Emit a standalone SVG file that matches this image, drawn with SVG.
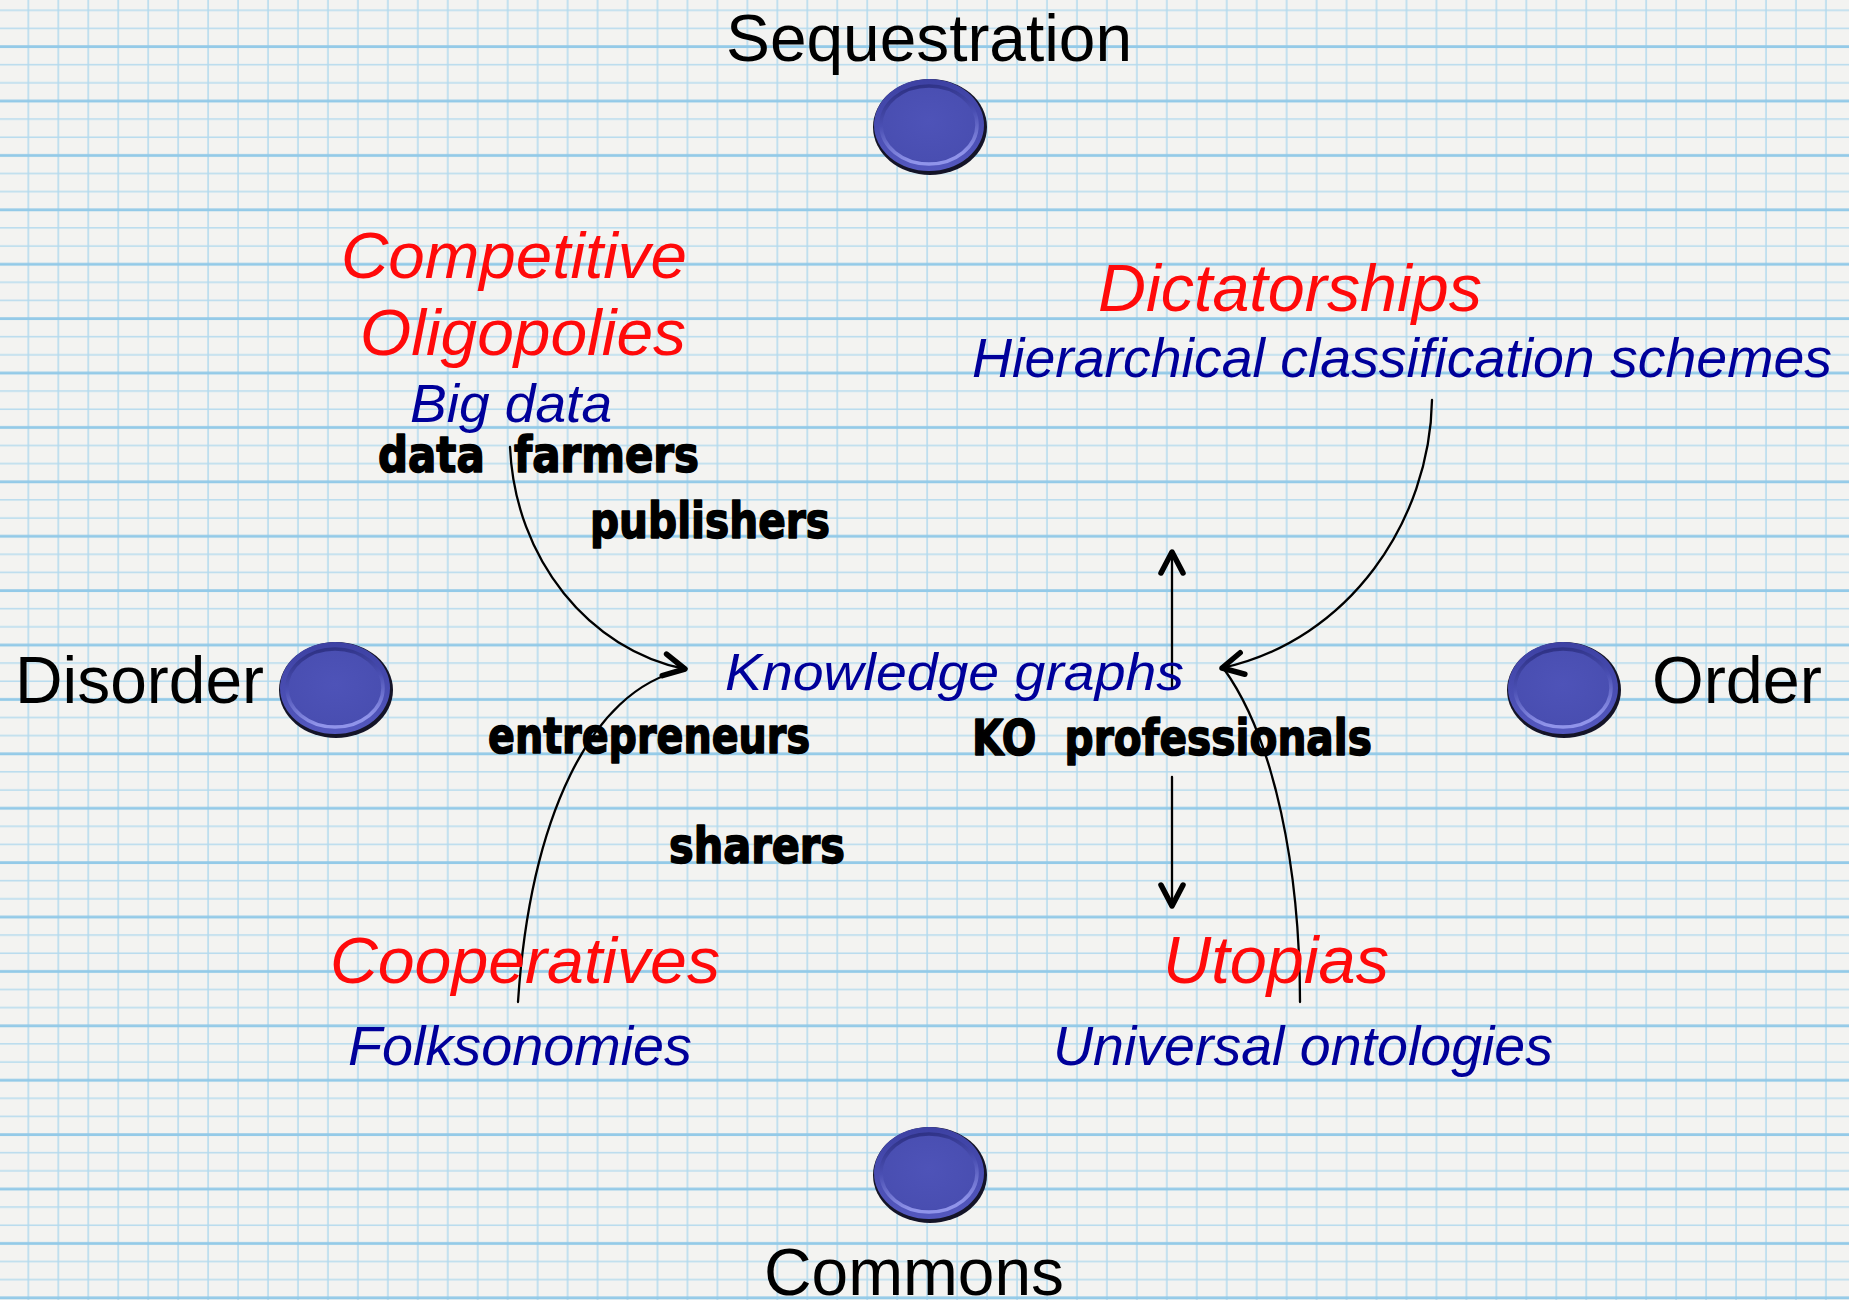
<svg xmlns="http://www.w3.org/2000/svg" width="1849" height="1300" viewBox="0 0 1849 1300">
<style>
.lbl{font-family:"Liberation Sans",Arial,sans-serif;font-size:66px;fill:#000}
.red{font-family:"Liberation Sans",Arial,sans-serif;font-style:italic;fill:#ff0a0a}
.blue{font-family:"Liberation Sans",Arial,sans-serif;font-style:italic;fill:#00009a}
.hand{font-family:"DejaVu Sans","Noto Sans",sans-serif;font-weight:bold;font-size:49px;fill:#000;stroke:#000;stroke-width:1.6;stroke-linejoin:round}
.con{fill:none;stroke:#000;stroke-width:2.3;stroke-linecap:round}
</style>
<defs>
<pattern id="grid" patternUnits="userSpaceOnUse" x="13.3" y="19.35" width="29.96" height="54.4">
<rect x="0" y="0" width="29.96" height="54.4" fill="#f3f3f1"/>
<rect x="14.3" y="0" width="1.5" height="54.4" fill="#b3daee"/>
<rect x="0" y="8.4" width="29.96" height="1.4" fill="#b3daee"/>
<rect x="0" y="44.6" width="29.96" height="1.4" fill="#b3daee"/>
<rect x="0" y="25.9" width="29.96" height="2.8" fill="#93cae8"/>
</pattern>
<linearGradient id="rim" x1="0" y1="0" x2="0" y2="1">
<stop offset="0" stop-color="#3d41a3"/>
<stop offset="1" stop-color="#5458bf"/>
</linearGradient>
<linearGradient id="bevel" x1="0" y1="0" x2="0.2" y2="1">
<stop offset="0" stop-color="#2a2d7e"/>
<stop offset="0.5" stop-color="#4a4fb3"/>
<stop offset="1" stop-color="#9094ea"/>
</linearGradient>
<radialGradient id="face" cx="0.5" cy="0.45" r="0.6">
<stop offset="0" stop-color="#4e53b8"/>
<stop offset="0.85" stop-color="#494eb1"/>
<stop offset="1" stop-color="#3f43a4"/>
</radialGradient>
<g id="disk">
<ellipse cx="1" cy="2" rx="57" ry="48" fill="#141428"/>
<ellipse cx="0" cy="0" rx="55" ry="46" fill="url(#rim)"/>
<ellipse cx="0" cy="0" rx="48" ry="39" fill="url(#face)" stroke="url(#bevel)" stroke-width="3.5"/>
</g>
<marker id="chev" markerUnits="userSpaceOnUse" markerWidth="40" markerHeight="40" viewBox="-30 -20 40 40" refX="0" refY="0" orient="auto">
<path d="M-21,-11 L0,0 L-21,11" fill="none" stroke="#000" stroke-width="5.5" stroke-linecap="round" stroke-linejoin="round"/>
</marker>
</defs>

<g id="background">
<rect x="0" y="0" width="1849" height="1300" fill="url(#grid)"/>
</g>

<g id="connectors">
<path class="con" d="M510,447 C515,560 590,650 685,669" marker-end="url(#chev)"/>
<path class="con" d="M518,1002 C530,820 590,690 683,670"/>
<path class="con" d="M1432,400 C1430,520 1350,640 1222,668" marker-end="url(#chev)"/>
<path class="con" d="M1300,1002 C1300,870 1275,740 1224,669"/>
<path class="con" d="M1172,688 L1172,552" marker-end="url(#chev)"/>
<path class="con" d="M1172,777 L1172,906" marker-end="url(#chev)"/>
</g>

<g id="node-sequestration">
<use href="#disk" transform="translate(929,125)"/>
<text class="lbl" x="726" y="61" textLength="406" lengthAdjust="spacingAndGlyphs">Sequestration</text>
</g>
<g id="node-disorder">
<use href="#disk" transform="translate(335,688)"/>
<text class="lbl" x="15" y="703" textLength="249" lengthAdjust="spacingAndGlyphs">Disorder</text>
</g>
<g id="node-order">
<use href="#disk" transform="translate(1563,688)"/>
<text class="lbl" x="1652" y="703" textLength="170" lengthAdjust="spacingAndGlyphs">Order</text>
</g>
<g id="node-commons">
<use href="#disk" transform="translate(929,1173)"/>
<text class="lbl" x="764" y="1295" textLength="300" lengthAdjust="spacingAndGlyphs">Commons</text>
</g>

<g id="node-oligopolies">
<text class="red" font-size="65" x="341" y="278" textLength="346" lengthAdjust="spacingAndGlyphs">Competitive</text>
<text class="red" font-size="65" x="360" y="355" textLength="326" lengthAdjust="spacingAndGlyphs">Oligopolies</text>
<text class="blue" font-size="53" x="410" y="422" textLength="202" lengthAdjust="spacingAndGlyphs">Big data</text>
</g>
<g id="node-dictatorships">
<text class="red" font-size="66" x="1098" y="311" textLength="384" lengthAdjust="spacingAndGlyphs">Dictatorships</text>
<text class="blue" font-size="55" x="972" y="377" textLength="860" lengthAdjust="spacingAndGlyphs">Hierarchical classification schemes</text>
</g>
<g id="node-cooperatives">
<text class="red" font-size="65" x="330" y="983" textLength="390" lengthAdjust="spacingAndGlyphs">Cooperatives</text>
<text class="blue" font-size="55" x="348" y="1065" textLength="344" lengthAdjust="spacingAndGlyphs">Folksonomies</text>
</g>
<g id="node-utopias">
<text class="red" font-size="66" x="1163" y="983" textLength="226" lengthAdjust="spacingAndGlyphs">Utopias</text>
<text class="blue" font-size="55" x="1053" y="1065" textLength="500" lengthAdjust="spacingAndGlyphs">Universal ontologies</text>
</g>
<g id="node-knowledge-graphs">
<text class="blue" font-size="52" x="725" y="690" textLength="459" lengthAdjust="spacingAndGlyphs">Knowledge graphs</text>
</g>

<g id="node-data-farmers"><text class="hand" x="378" y="472" textLength="321" lengthAdjust="spacingAndGlyphs" xml:space="preserve">data  farmers</text></g>
<g id="node-publishers"><text class="hand" x="590" y="538" textLength="240" lengthAdjust="spacingAndGlyphs">publishers</text></g>
<g id="node-entrepreneurs"><text class="hand" x="488" y="753" textLength="322" lengthAdjust="spacingAndGlyphs">entrepreneurs</text></g>
<g id="node-ko-professionals"><text class="hand" x="972" y="755" textLength="400" lengthAdjust="spacingAndGlyphs" xml:space="preserve">KO  professionals</text></g>
<g id="node-sharers"><text class="hand" x="669" y="863" textLength="176" lengthAdjust="spacingAndGlyphs">sharers</text></g>
</svg>
